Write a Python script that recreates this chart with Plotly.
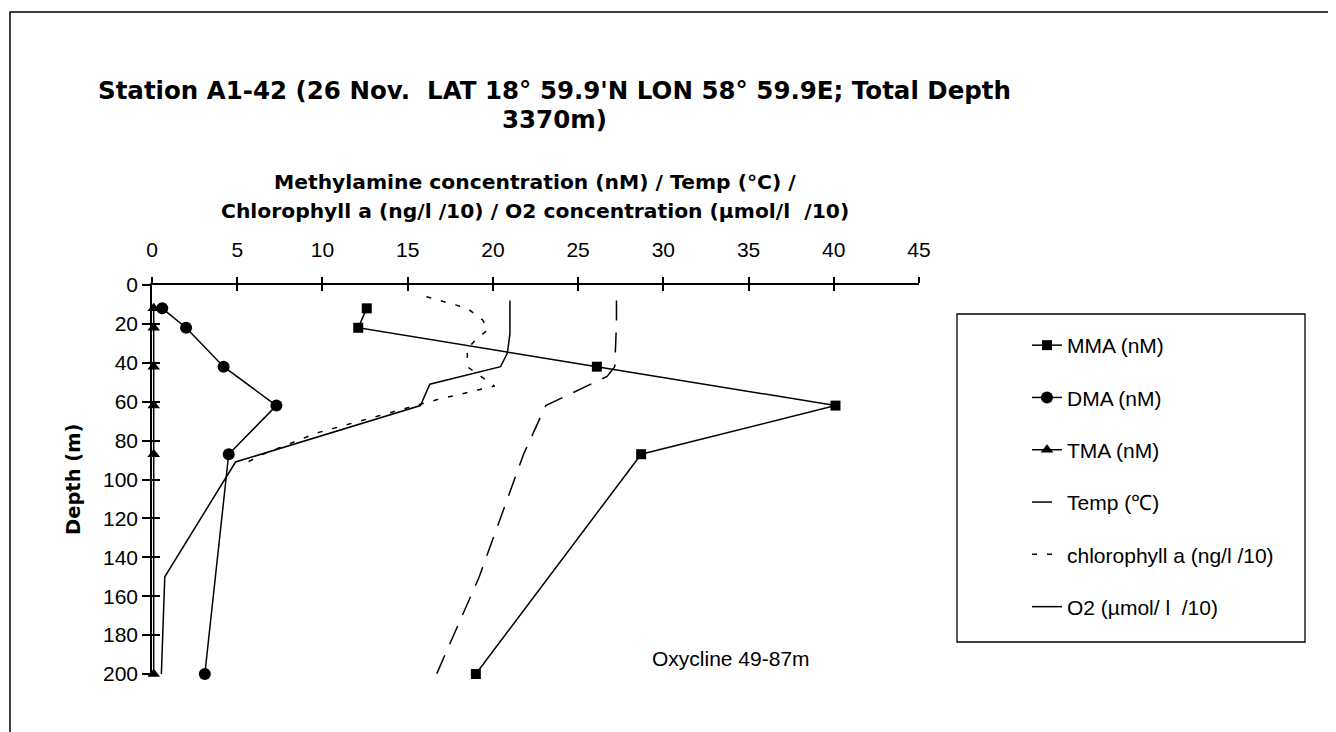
import plotly.graph_objects as go

# ---------------- data ----------------
depth_amine = [12, 22, 42, 62, 87, 200]
mma = [12.6, 12.1, 26.1, 40.1, 28.7, 19.0]
dma = [0.6, 2.0, 4.2, 7.3, 4.5, 3.1]
tma = [0.1, 0.1, 0.1, 0.1, 0.1, 0.1]

depth_temp = [8, 20, 42, 47, 62, 87, 150, 200]
temp = [27.25, 27.25, 27.15, 26.7, 23.1, 21.8, 19.2, 16.7]

depth_chl = [6, 9, 12, 18, 23, 29, 33, 42, 48, 52, 59, 76, 87, 92]
chl = [16.1, 17.3, 18.5, 19.4, 19.7, 18.9, 18.5, 18.5, 19.5, 20.1, 16.7, 9.7, 6.5, 5.4]

depth_o2 = [8, 25, 35, 42, 51, 62, 91, 150, 200]
o2 = [21.0, 21.0, 20.85, 20.45, 16.3, 15.75, 4.9, 0.75, 0.55]

x_ticks = [0, 5, 10, 15, 20, 25, 30, 35, 40, 45]
y_ticks = [0, 20, 40, 60, 80, 100, 120, 140, 160, 180, 200]

names = ["MMA (nM)", "DMA (nM)", "TMA (nM)", "Temp (\u2103)",
         "chlorophyll a (ng/l /10)", "O2 (\u00b5mol/ l  /10)"]

title_line1 = "Station A1-42 (26 Nov.  LAT 18\u00b0 59.9'N LON 58\u00b0 59.9E; Total Depth"
title_line2 = "3370m)"
xtitle_line1 = "Methylamine concentration (nM) / Temp (\u00b0C) /"
xtitle_line2 = "Chlorophyll a (ng/l /10) / O2 concentration (\u00b5mol/l  /10)"
ytitle = "Depth (m)"
note = "Oxycline 49-87m"

# ---------------- figure ----------------
BLACK = "black"
LW = 1.5
REG = "Liberation Sans, Arial, sans-serif"
BOLD = "DejaVu Sans, sans-serif"

fig = go.Figure()

fig.add_trace(go.Scatter(x=mma, y=depth_amine, name=names[0], mode="lines+markers",
                         line=dict(color=BLACK, width=LW),
                         marker=dict(symbol="square", size=10, color=BLACK),
                         legendgroup="g1", cliponaxis=False))
fig.add_trace(go.Scatter(x=dma, y=depth_amine, name=names[1], mode="lines+markers",
                         line=dict(color=BLACK, width=LW),
                         marker=dict(symbol="circle", size=12, color=BLACK),
                         legendgroup="g2", cliponaxis=False))
fig.add_trace(go.Scatter(x=tma, y=depth_amine, name=names[2], mode="lines+markers",
                         line=dict(color=BLACK, width=LW),
                         marker=dict(symbol="triangle-up", size=11, color=BLACK),
                         legendgroup="g3", cliponaxis=False))
fig.add_trace(go.Scatter(x=temp, y=depth_temp, name=names[3], mode="lines",
                         line=dict(color=BLACK, width=LW, dash="20px,12px"),
                         legendgroup="g4", cliponaxis=False))
fig.add_trace(go.Scatter(x=chl, y=depth_chl, name=names[4], mode="lines",
                         line=dict(color=BLACK, width=LW, dash="5px,10px"),
                         legendgroup="g5", cliponaxis=False))
fig.add_trace(go.Scatter(x=o2, y=depth_o2, name=names[5], mode="lines",
                         line=dict(color=BLACK, width=LW),
                         legendgroup="g6", cliponaxis=False))
# helper trace so the overlay axes (inner half of the crossing ticks) are drawn
fig.add_trace(go.Scatter(x=[], y=[], xaxis="x2", yaxis="y2", showlegend=False,
                         hoverinfo="skip"))

# page has an 8px body margin: the figure is placed at screen (8, 8)
OFF = 8
SW, SH = 1336, 732              # screen size
PX0, PX1 = 152, 919             # plot area on screen (x)
PY0, PY1 = 285, 674             # plot area on screen (y)
W, H = SW - OFF, SH - OFF
L, T = PX0 - OFF, PY0 - OFF
R, B = W - (PX1 - OFF), H - (PY1 - OFF)


def px_x(sx):
    return (sx - PX0) / (PX1 - PX0)


def px_y(sy):
    return (PY1 - sy) / (PY1 - PY0)


axis_common = dict(showgrid=False, zeroline=False, color=BLACK,
                   tickfont=dict(family=REG, size=21, color=BLACK))

fig.update_layout(
    width=W, height=H,
    margin=dict(l=L, r=R, t=T, b=B, autoexpand=False),
    paper_bgcolor="white", plot_bgcolor="white",
    font=dict(family=REG, color=BLACK),
    xaxis=dict(range=[0, 45], side="top", tickvals=x_ticks, showline=True,
               linecolor=BLACK, linewidth=LW, ticks="outside", ticklen=6,
               tickwidth=LW, tickcolor=BLACK, ticklabelstandoff=12,
               **axis_common),
    yaxis=dict(range=[200, 0], tickvals=y_ticks, showline=True,
               linecolor=BLACK, linewidth=LW, ticks="outside", ticklen=8,
               tickwidth=LW, tickcolor=BLACK, **axis_common),
    xaxis2=dict(range=[0, 45], overlaying="x", side="top", anchor="y2",
                tickvals=x_ticks, ticks="inside", ticklen=6, tickwidth=LW,
                tickcolor=BLACK, showticklabels=False, showline=False,
                showgrid=False, zeroline=False),
    yaxis2=dict(range=[200, 0], overlaying="y", side="left", anchor="x2",
                tickvals=y_ticks, ticks="inside", ticklen=8, tickwidth=LW,
                tickcolor=BLACK, showticklabels=False, showline=False,
                showgrid=False, zeroline=False),
    legend=dict(x=px_x(1027), y=px_y(325), xanchor="left", yanchor="top",
                bgcolor="rgba(0,0,0,0)", borderwidth=0,
                font=dict(family=REG, size=21, color=BLACK),
                tracegroupgap=22, itemclick=False),
    showlegend=True,
)

# outer chart frame and legend box
fig.add_shape(type="rect", xref="paper", yref="paper",
              x0=px_x(10), x1=px_x(1350), y0=px_y(750), y1=px_y(12),
              line=dict(color=BLACK, width=1.5), layer="below")
fig.add_shape(type="rect", xref="paper", yref="paper",
              x0=px_x(957), x1=px_x(1305), y0=px_y(642), y1=px_y(314),
              line=dict(color=BLACK, width=1.3), layer="below")

ann = []
ann.append(dict(text="<b>%s</b>" % title_line1, x=px_x(554), y=px_y(90),
                font=dict(family=BOLD, size=24.5, color=BLACK)))
ann.append(dict(text="<b>%s</b>" % title_line2, x=px_x(554), y=px_y(120),
                font=dict(family=BOLD, size=24.5, color=BLACK)))
ann.append(dict(text="<b>%s</b>" % xtitle_line1, x=px_x(535), y=px_y(182),
                font=dict(family=BOLD, size=20.3, color=BLACK)))
ann.append(dict(text="<b>%s</b>" % xtitle_line2, x=px_x(535), y=px_y(211),
                font=dict(family=BOLD, size=20.3, color=BLACK)))
ann.append(dict(text="<b>%s</b>" % ytitle, x=px_x(73), y=px_y(479), textangle=-90,
                font=dict(family=BOLD, size=19.5, color=BLACK)))
ann.append(dict(text=note, x=px_x(731), y=px_y(658),
                font=dict(family=REG, size=21, color=BLACK)))
for a in ann:
    a.update(xref="paper", yref="paper", showarrow=False,
             xanchor="center", yanchor="middle")
fig.update_layout(annotations=ann)

fig.write_html("out.html")
